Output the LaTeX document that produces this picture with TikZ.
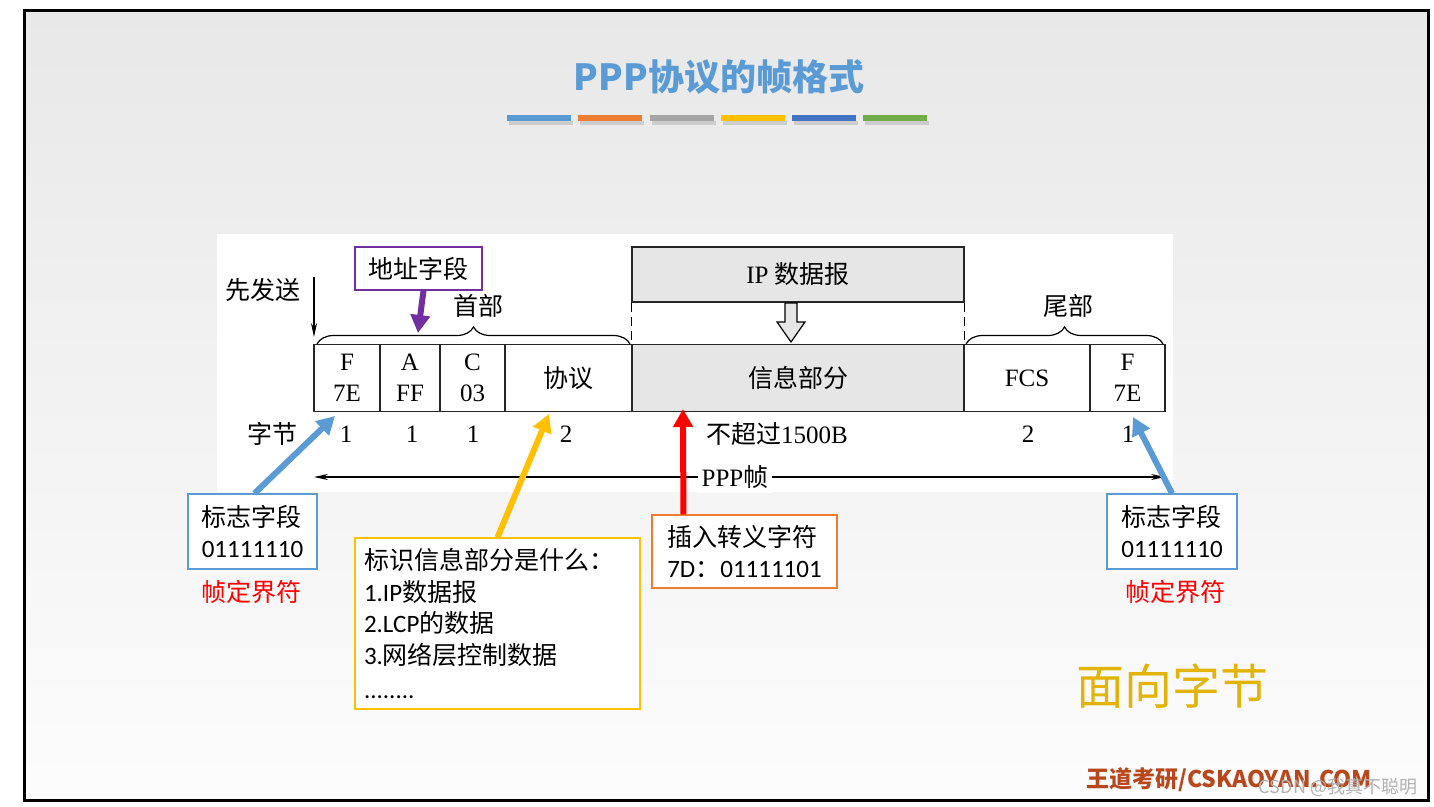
\documentclass[tikz,border=0pt]{standalone}
\usepackage{fontspec}
\setmainfont{Liberation Serif}
\newfontfamily\cjk{Noto Sans CJK SC}
\newfontfamily\calf{Carlito}
\usetikzlibrary{positioning,arrows.meta,decorations.pathreplacing,calc}
\definecolor{blueC}{HTML}{5B9BD5}
\definecolor{orangeC}{HTML}{ED7D31}
\definecolor{grayC}{HTML}{A5A5A5}
\definecolor{goldC}{HTML}{FFC000}
\definecolor{navyC}{HTML}{4472C4}
\definecolor{greenC}{HTML}{70AD47}
\definecolor{purpleC}{HTML}{7030A0}
\definecolor{redC}{HTML}{FF0000}
\definecolor{brickC}{HTML}{B8471C}
\definecolor{yolkC}{HTML}{E2B40A}
\definecolor{infoC}{HTML}{E6E6E6}

\begin{document}
\begin{tikzpicture}[x=1pt, y=-1pt,
        font=\fontsize{25}{31}\selectfont,
        cell/.style={draw=black!85, line width=1.2pt, minimum height=67pt,
          inner sep=0pt, align=center, fill=white},
        info/.style={cell, fill=infoC},
        bytes/.style={inner sep=0pt, anchor=center},
        lbl/.style={font=\cjk\fontsize{25}{28}\selectfont},
        call/.style={draw, line width=1.2pt, fill=white, align=left,
          inner xsep=9pt, inner ysep=4pt, font=\cjk\fontsize{25}{31.5}\selectfont},
        callarr/.style={line width=6pt, -{Triangle[length=18pt,width=19pt]}},
        brc/.style={decorate, line width=1.2pt,
          decoration={brace, amplitude=17pt}},
        conn/.style={line width=1.2pt, -{Stealth[length=14pt,width=6pt]}}]
      % slide
      \useasboundingbox (0,0) rectangle (1434,806);
      \fill[white] (0,0) rectangle (1434,806);
      \shade[top color=black!9, bottom color=black!1] (24,10) rectangle (1428,800);
      \draw[line width=3pt] (24,10) rectangle (1428,800);
      \node[font=\cjk\bfseries\fontsize{36}{40}\selectfont, text=blueC] (title) at (719,77) {PPP协议的帧格式};
      \foreach \c [count=\i] in {blueC,orangeC,grayC,goldC,navyC,greenC} {
        \fill[black!20] (438+\i*71.2,121) rectangle +(64,4);
        \fill[\c] (436+\i*71.2,115) rectangle +(64,6);
      }
      \fill[white] (217,234) rectangle (1173,492);
      % frame
      \node[cell, minimum width=66pt]  (fF)    at (347,378)   {F\\7E};
      \node[cell, minimum width=60pt]  (fA)    at (410,378)   {A\\FF};
      \node[cell, minimum width=65pt]  (fC)    at (472.5,378) {C\\03};
      \node[cell, minimum width=127pt] (proto) at (568.5,378) {\cjk 协议};
      \node[info, minimum width=332pt] (payload) at (798,378) {\cjk 信息部分};
      \node[cell, minimum width=126pt] (fcs)   at (1027,378)  {FCS};
      \node[cell, minimum width=75pt]  (fE)    at (1127.5,378) {F\\7E};
      \node[info, minimum width=332pt, minimum height=55pt] (ip) at (798,274.5) {IP {\cjk 数据报}};
      \draw[dash pattern=on 9pt off 5pt, line width=1.2pt] (ip.south west) -- (payload.north west);
      \draw[dash pattern=on 9pt off 5pt, line width=1.2pt] (ip.south east) -- (payload.north east);
      \draw[line width=1.2pt, fill=infoC] (785,303) -- (785,322) -- (777,322) -- (791,342)
        -- (805,322) -- (797,322) -- (797,303) -- cycle;
      \draw[brc] (317,344) -- (630,344);
      \draw[brc] (966,344) -- (1163,344);
      \node[lbl] (head) at (478,306) {首部};
      \node[lbl] (tail) at (1068,306) {尾部};
      \node[lbl] (first) at (263,290) {先发送};
      \coordinate (s0) at (314,277);
      \coordinate (s1) at (314,337);
      \draw[conn] (s0) -- (s1);
      % byte counts
      \node[bytes, lbl] (bl) at (272,434) {字节};
      \node[bytes] (b1) at (346,434) {1};
      \node[bytes] (b2) at (412,434) {1};
      \node[bytes] (b3) at (473,434) {1};
      \node[bytes] (b4) at (566,434) {2};
      \node[bytes] (b5) at (777,434) {{\cjk 不超过}1500B};
      \node[bytes] (b6) at (1028,434) {2};
      \node[bytes] (b7) at (1128,434) {1};
      \coordinate (pl) at (314,477);
      \coordinate (pr) at (1165,477);
      \draw[conn, {Stealth[length=14pt,width=6pt]}-{Stealth[length=14pt,width=6pt]}] (pl) -- (pr);
      \node[fill=white, inner sep=4pt] (ppp) at (735,477) {PPP{\cjk 帧}};
      % callouts
      \node[call, draw=purpleC, minimum width=127pt, minimum height=43pt, align=center] (addr) at (418.5,268.5) {地址字段};
      \node[call, draw=blueC, minimum width=129pt, minimum height=75pt] (flagL) at (252.5,531.5) {标志字段\\{\calf 01111110}};
      \node[call, draw=blueC, minimum width=130pt, minimum height=75pt] (flagR) at (1172,531.5) {标志字段\\{\calf 01111110}};
      \node[call, draw=goldC, minimum width=285pt, minimum height=171pt, text width=267pt] (what) at (497.5,623.5)
        {标识信息部分是什么：\\{\calf 1.IP}数据报\\{\calf 2.LCP}的数据\\{\calf 3.}网络层控制数据\\[3pt]{\calf ........}};
      \node[call, draw=orangeC, minimum width=185pt, minimum height=73pt] (esc) at (744.5,551.5)
        {插入转义字符\\{\calf 7D}：{\calf 01111101}};
      \node[lbl, text=redC] (delimL) at (251,592) {帧定界符};
      \node[lbl, text=redC] (delimR) at (1175,592) {帧定界符};
      \coordinate (tAddr) at (418,333);
      \coordinate (tFlagL) at (335,416);
      \coordinate (tWhat) at (549,414);
      \coordinate (tEsc) at (683,409);
      \coordinate (tFlagR) at (1133,417);
      \draw[callarr, purpleC] ($(addr.south)+(5,0)$) -- (tAddr);
      \draw[callarr, blueC] ($(flagL.north)+(2,0)$) -- (tFlagL);
      \draw[callarr, goldC] (what.north) -- (tWhat);
      \draw[callarr, redC] ($(esc.north west)+(32,0)$) -- (tEsc);
      \draw[callarr, blueC] (flagR.north) -- (tFlagR);
      % footer
      \node[font=\cjk\fontsize{48}{52}\selectfont, text=yolkC] (bytewise) at (1172,686) {面向字节};
      \node[font=\cjk\bfseries\fontsize{23}{26}\selectfont, text=brickC] (brand) at (1229,780) {王道考研/CSKAOYAN.COM};
      \node[font=\cjk\fontsize{18}{22}\selectfont, text=black!30] (mark) at (1338,787) {CSDN @我真不聪明};
      \end{tikzpicture}
\end{document}
